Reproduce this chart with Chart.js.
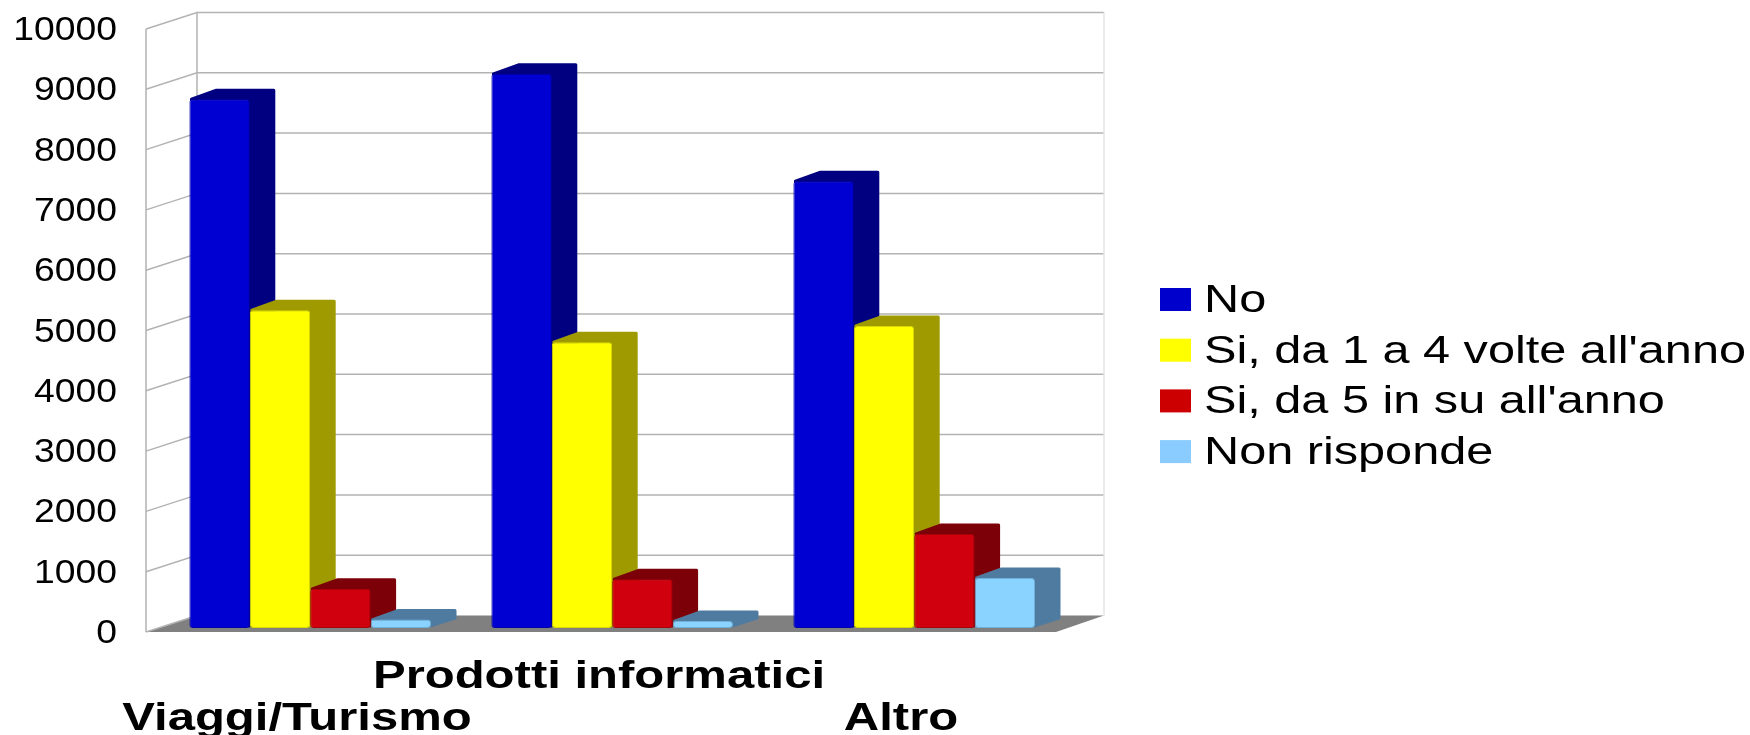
<!DOCTYPE html>
<html>
<head>
<meta charset="utf-8">
<script src="https://cdn.jsdelivr.net/npm/chart.js@4"></script>
<style>
  body { margin: 0; background: #fff; }
  canvas { display: block; }
</style>
</head>
<body>
<canvas id="chart" width="1750" height="735"></canvas>
<script>
var categories = ["Viaggi/Turismo", "Prodotti informatici", "Altro"];
var seriesNames = ["No", "Si, da 1 a 4 volte all'anno", "Si, da 5 in su all'anno", "Non risponde"];
var no = [8770, 9190, 7410];
var da1a4 = [5270, 4740, 5010];
var da5 = [650, 810, 1560];
var nonRisponde = [140, 115, 830];

var frontColors = ["#0000d2", "#ffff00", "#d0000e", "#8ad2ff"];
var edgeColors = ["#0000a8", "#d8d800", "#a8000a", "#70b0d8"];
var sideColors = ["#000080", "#9e9a00", "#7c0008", "#4f7ba0"];
var legendColors = ["#0000cc", "#ffff00", "#cc0000", "#8accff"];

// depth of the fake 3d box, and of one bar inside it
var wallDx = 51, wallDy = 16.5;
var barDx = 25, barDy = 10;
var barShiftX = 13.2, barShiftY = 4;

var fontName = "'Liberation Sans'";

// the text in the original is stretched sideways, canvas fonts can't do that alone
function stretchFor(font) {
  if (font.indexOf("bold") >= 0) return 1.29;
  if (font.indexOf("33px") >= 0) return 1.13;
  return 1.28;
}

var fake3d = {
  id: "fake3d",
  beforeInit: function(chart) {
    var ctx = chart.ctx, plain = ctx.fillText;
    ctx.fillText = function(text, x, y) {
      var k = stretchFor(ctx.font);
      // y tick labels sit a bit under their gridline in the original
      var nudge = ctx.font.indexOf("33px") >= 0 ? 2 : 0;
      ctx.save();
      ctx.translate(x, y + nudge);
      ctx.scale(k, 1);
      plain.call(ctx, text, 0, 0);
      ctx.restore();
    };
  },
  beforeDatasetsDraw: function(chart) {
    var ctx = chart.ctx, y = chart.scales.y, a = chart.chartArea;
    var frontRight = a.right + 4;
    var backRight = a.right + 52;
    var y0 = y.getPixelForValue(0);

    // floor
    ctx.fillStyle = "#808080";
    ctx.beginPath();
    ctx.moveTo(a.left, y0);
    ctx.lineTo(frontRight, y0);
    ctx.lineTo(backRight, y0 - wallDy);
    ctx.lineTo(a.left + wallDx, y0 - wallDy);
    ctx.closePath();
    ctx.fill();

    // walls
    ctx.strokeStyle = "#b3b3b3";
    ctx.lineWidth = 1.5;
    y.ticks.forEach(function(t) {
      var py = y.getPixelForValue(t.value);
      ctx.beginPath();
      ctx.moveTo(a.left, py);
      ctx.lineTo(a.left + wallDx, py - wallDy);
      if (t.value > 0) ctx.lineTo(backRight, py - wallDy);
      ctx.stroke();
    });
    ctx.beginPath();
    ctx.moveTo(a.left, a.top);
    ctx.lineTo(a.left, y0);
    ctx.moveTo(a.left + wallDx, a.top - wallDy);
    ctx.lineTo(a.left + wallDx, y0 - wallDy);
    ctx.stroke();
    ctx.strokeStyle = "#e4e4e4";
    ctx.beginPath();
    ctx.moveTo(backRight, a.top - wallDy);
    ctx.lineTo(backRight, y0 - wallDy);
    ctx.stroke();

    // bars sit a little inside the box
    ctx.save();
    ctx.translate(barShiftX, -barShiftY);
    ctx.lineJoin = "round";
    ctx.lineWidth = 3;
    chart.data.datasets.forEach(function(ds, d) {
      chart.getDatasetMeta(d).data.forEach(function(bar) {
        var left = bar.x - bar.width / 2, right = bar.x + bar.width / 2;
        ctx.fillStyle = ctx.strokeStyle = sideColors[d];
        ctx.beginPath();
        ctx.moveTo(left + 2, bar.y);
        ctx.lineTo(left + 2 + barDx, bar.y - barDy + 1);
        ctx.lineTo(right + barDx - 1, bar.y - barDy + 1);
        ctx.lineTo(right + barDx - 1, bar.base - barDy);
        ctx.lineTo(right - 1, bar.base - 2);
        ctx.lineTo(right - 1, bar.y);
        ctx.closePath();
        ctx.fill();
        ctx.stroke();
      });
    });
    ctx.restore();

    ctx.save();
    ctx.translate(barShiftX, -barShiftY);
  },
  afterDatasetsDraw: function(chart) {
    chart.ctx.restore();
  },
  afterDraw: function(chart) {
    var ctx = chart.ctx;
    ctx.font = "38px " + fontName;
    ctx.textBaseline = "alphabetic";
    ctx.textAlign = "left";
    seriesNames.forEach(function(name, i) {
      var top = 288 + i * 50.7;
      ctx.fillStyle = legendColors[i];
      ctx.fillRect(1160, top, 31, 23);
      ctx.fillStyle = "#000";
      ctx.fillText(name, 1204, top + 24);
    });
  }
};

var values = [no, da1a4, da5, nonRisponde];

new Chart(document.getElementById("chart"), {
  type: "bar",
  plugins: [fake3d],
  data: {
    labels: categories,
    datasets: seriesNames.map(function(name, i) {
      return {
        label: name,
        data: values[i],
        backgroundColor: frontColors[i],
        borderColor: edgeColors[i],
        borderWidth: 1,
        borderRadius: 3,
        borderSkipped: false
      };
    })
  },
  options: {
    responsive: false,
    animation: false,
    layout: { padding: { left: 0, top: 29, right: 698, bottom: 0 } },
    plugins: { legend: { display: false }, tooltip: { enabled: false } },
    datasets: { bar: { categoryPercentage: 0.8, barPercentage: 1, clip: false } },
    scales: {
      x: {
        grid: { display: false },
        border: { display: false },
        afterFit: function(scale) {
          scale.height = 103;
          scale.paddingLeft = scale.paddingRight = 0;
        },
        ticks: {
          color: "#000",
          autoSkip: false,
          maxRotation: 0,
          padding: 16,
          font: { family: fontName, size: 38, weight: "bold", lineHeight: 1.12 },
          // labels are staggered over two rows
          callback: function(v, i) {
            return i % 2 ? [categories[i], ""] : ["", categories[i]];
          }
        }
      },
      y: {
        min: 0,
        max: 10000,
        grid: { display: false },
        border: { display: false },
        afterFit: function(scale) {
          scale.width = 146;
          scale.paddingTop = scale.paddingBottom = 0;
        },
        ticks: {
          color: "#000",
          stepSize: 1000,
          padding: 21,
          font: { family: fontName, size: 33 },
          callback: function(v) { return String(v); }
        }
      }
    }
  }
});
</script>
</body>
</html>
